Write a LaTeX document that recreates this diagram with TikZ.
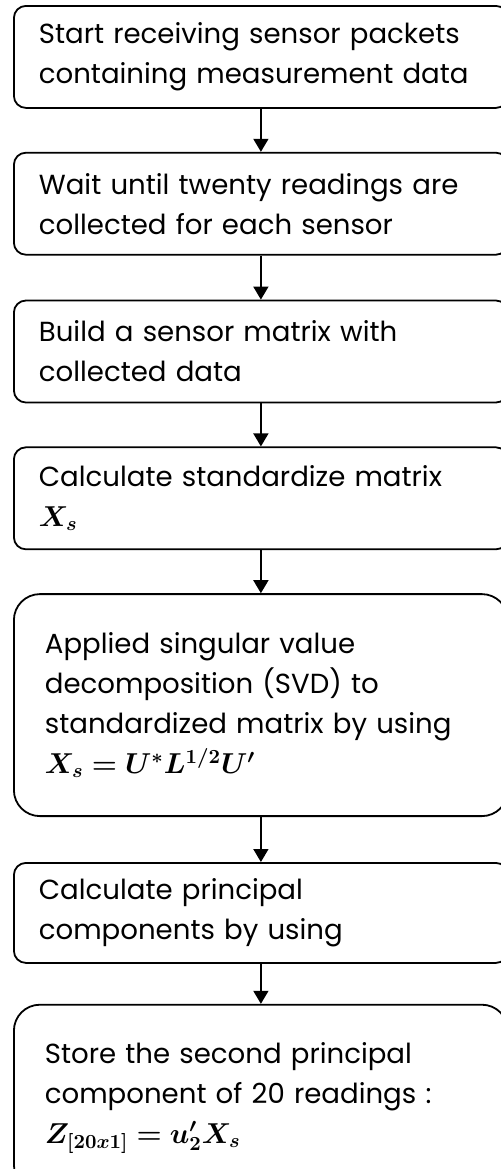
\documentclass[tikz,border=0pt]{standalone}
\usepackage{amsmath}
\usepackage{bm}
\usepackage{fontspec}
\setmainfont{Poppins}
\usetikzlibrary{arrows.meta,positioning}
\tikzset{
    %Define standard arrow tip
    >={Triangle[width=7.5pt,length=6.5pt]},
    %Define style for boxes
    punkt/.style={
           rectangle,
           rounded corners=6pt,
           draw=black, line width=0.9pt,
           text width=222pt,
           inner xsep=12.5pt,
           minimum height=51pt,
           align=left,
           font=\fontsize{13.8}{20}\selectfont},
    bigpunkt/.style={
           punkt,
           rounded corners=13pt,
           text width=216pt,
           inner xsep=15.5pt},
    % Define arrow style
    pil/.style={
           ->,
           line width=0.8pt}
}
\begin{document}
\begin{tikzpicture}[node distance=21.5pt]
        \useasboundingbox (0,0) rectangle (250.5pt,-584.5pt);
         %nodes
          \node[punkt, anchor=north west] (recv) at (6.5pt,-2.5pt)
          {Start receiving sensor packets\\containing measurement data};
          \node[punkt, below=of recv] (wait)
          {Wait until twenty readings are\\collected for each sensor};
          \node[punkt, below=22pt of wait] (build)
          {Build a sensor matrix with\\collected data};
          \node[punkt, below=of build] (stand)
          {Calculate standardize matrix\\$\bm{X_s}$};
          \node[bigpunkt, minimum height=111pt, below=of stand] (svd)
          {Applied singular value\\decomposition (SVD) to\\standardized matrix by using\\$\bm{X_s = U^{*}L^{1/2}U'}$};
          \node[punkt, minimum height=50pt, below=22.5pt of svd] (pca)
          {Calculate principal\\components by using};
          \node[bigpunkt, minimum height=93pt, below=20pt of pca] (store)
          {Store the second principal\\component of 20 readings :\\$\bm{Z_{[20x1]} = u'_2 X_s}$};
         %arrows
          \draw[pil] (recv) -- (wait);
          \draw[pil] (wait) -- (build);
          \draw[pil] (build) -- (stand);
          \draw[pil] (stand) -- (svd);
          \draw[pil] (svd) -- (pca);
          \draw[pil] (pca) -- (store);
\end{tikzpicture}
\end{document}
